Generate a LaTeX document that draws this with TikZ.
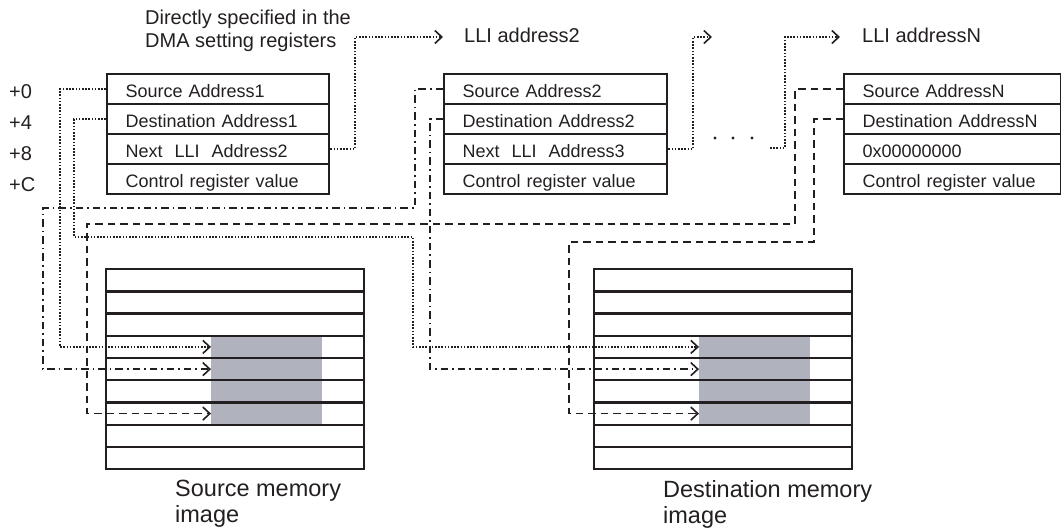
\documentclass[tikz,border=0pt]{standalone}
\usepackage{fontspec}
\setmainfont{Liberation Sans}
\usetikzlibrary{arrows.meta}
\definecolor{ink}{HTML}{231F20}
\definecolor{shade}{HTML}{B0B2BD}
\begin{document}
\begin{tikzpicture}[x=1pt,y=-1pt,
  lli/.style={draw=ink, line width=2.3pt, anchor=north west, minimum height=30pt,
    inner xsep=18.5pt, inner ysep=0pt, text height=19pt, text depth=2pt,
    align=left, font=\fontsize{18}{21}\selectfont, text=ink},
  mem/.style={draw=ink, line width=2.3pt, anchor=north west, minimum width=258pt,
    minimum height=22.22pt, inner sep=0pt},
  graybox/.style={fill=shade, anchor=north west, minimum width=111pt,
    minimum height=88.9pt, inner sep=0pt},
  conn/.style={ink, line width=1.6pt},
  dotl/.style={conn, dash pattern=on 1.6pt off 1.6pt},
  dashl/.style={conn, dash pattern=on 7.5pt off 5pt},
  dashdotl/.style={conn, dash pattern=on 7.5pt off 4pt on 1.6pt off 4pt},
  arr/.style={-{Straight Barb[length=7pt,width=13pt,line width=1.6pt]}},
  lbl/.style={font=\fontsize{20}{22.5}\selectfont, text=ink, inner sep=0pt, align=left},
  biglbl/.style={font=\fontsize{23.5}{26}\selectfont, text=ink, inner sep=0pt, align=left}
]
\useasboundingbox (0,0) rectangle (1061,530);

% top labels
\node[lbl, anchor=north west] (note) at (145,10) {Directly specified in the\\DMA setting registers};
\node[lbl, anchor=west] (lli2) at (464,35) {LLI address2};
\node[lbl, anchor=west] (llin) at (862,35) {LLI addressN};

% offsets
\node[lbl, anchor=west] (o0) at (9,92) {+0};
\node[lbl, anchor=west] (o4) at (9,123) {+4};
\node[lbl, anchor=west] (o8) at (9,154) {+8};
\node[lbl, anchor=west] (oc) at (9,185) {+C};

% LLI 1
\node[lli, text width=185pt] (a1) at (106,73) {Source Address1};
\node[lli, text width=185pt] (a2) at (106,103) {Destination Address1};
\node[lli, text width=185pt] (a3) at (106,133) {Next\ \ LLI\ \ Address2};
\node[lli, text width=185pt] (a4) at (106,163) {Control register value};
% LLI 2
\node[lli, text width=186pt] (b1) at (443,73) {Source Address2};
\node[lli, text width=186pt] (b2) at (443,103) {Destination Address2};
\node[lli, text width=186pt] (b3) at (443,133) {Next\ \ LLI\ \ Address3};
\node[lli, text width=186pt] (b4) at (443,163) {Control register value};
% LLI N
\node[lli, text width=180pt] (c1) at (843,73) {Source AddressN};
\node[lli, text width=180pt] (c2) at (843,103) {Destination AddressN};
\node[lli, text width=180pt] (c3) at (843,133) {0x00000000};
\node[lli, text width=180pt] (c4) at (843,163) {Control register value};

% memory images
\node[graybox] (sg) at (211,334.7) {};
\node[graybox] (dg) at (699,334.7) {};
\foreach \i in {1,...,9} {
  \node[mem] (sm\i) at (105,{268+(\i-1)*22.22}) {};
  \node[mem] (dm\i) at (593,{268+(\i-1)*22.22}) {};
}
\node[biglbl, anchor=north west] (slbl) at (175,480) {Source memory\\image};
\node[biglbl, anchor=north west] (dlbl) at (663,480) {Destination memory\\image};

% next-LLI chain
\coordinate (t2) at (443,37);
\coordinate (t3) at (712,37);
\coordinate (s4) at (770,148);
\coordinate (tn) at (840,37);
\draw[dotl,arr] (a3.east) -| (355,37) -- (t2);
\draw[dotl,arr] (b3.east) -| (693,37) -- (t3);
\draw[dotl,arr] (s4) -| (785,37) -- (tn);
\foreach \x in {715,733,752} \fill[ink] (\x,138) circle (1.6pt);

% address connectors
\draw[dotl,arr] (a1.west) -- ++(-46,0) |- (sm4.west -| sg.west);
\draw[dotl,arr] (a2.west) -| (74,237) -- (413,237) |- (dm4.west -| dg.west);
\draw[dashdotl,arr] (b1.west) -| (415,208) -- (43,208) |- (sm5.west -| sg.west);
\draw[dashdotl,arr] (b2.west) -- ++(-13,0) |- (dm5.west -| dg.west);
\draw[dashl,arr] (c1.west) -| (795,224) -- (87,224) |- (sm7.west -| sg.west);
\draw[dashl,arr] (c2.west) -| (814,242) -- (569,242) |- (dm7.west -| dg.west);
\end{tikzpicture}
\end{document}
